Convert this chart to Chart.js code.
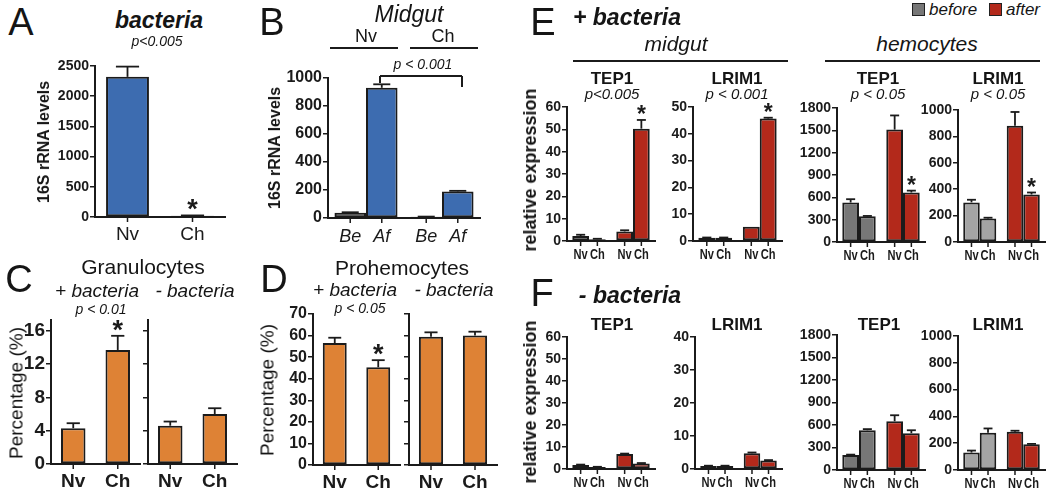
<!DOCTYPE html>
<html>
<head>
<meta charset="utf-8">
<script src="https://cdn.jsdelivr.net/npm/chart.js@4.4.0/dist/chart.umd.min.js"></script>
<style>
  body { margin: 0; background: #fff; }
  #fig { position: relative; width: 1050px; height: 493px; overflow: hidden;
         font-family: "Liberation Sans", Arial, sans-serif; color: #151515; }
  #fig canvas { position: absolute; }
  .t { position: absolute; white-space: nowrap; line-height: 1; }
  .ln { position: absolute; background: #1b1b1b; }
  .key { position: absolute; width: 11px; height: 11px; border: 1.5px solid #222; }
</style>
</head>
<body>
<div id="fig"></div>
<script>
const FONT = '"Liberation Sans", Arial, sans-serif';
const INK = "#1b1b1b";
const BLUE = "#3d6cb0", ORANGE = "#de8235", RED = "#b3291b";
const GRAY_DK = "#777777", GRAY_LT = "#a4a4a4";

// ---- A: whole mosquito 16S rRNA
const aLabels = ["Nv", "Ch"];
const aValues = [2320, 20];
const aErrors = [170, 6];

// ---- B: midgut 16S rRNA, before (Be) / after (Af)
const bGroups = ["Nv", "Ch"];
const bBe = [38, 9];
const bAf = [930, 190];
const bBeErr = [3, 1];
const bAfErr = [25, 4];

// ---- C: granulocytes (%)
const cLabels = ["Nv", "Ch"];
const cPlus = [4.3, 13.7];
const cPlusErr = [0.6, 1.7];
const cMinus = [4.6, 6.0];
const cMinusErr = [0.5, 0.7];

// ---- D: prohemocytes (%)
const dPlus = [56.5, 45.3];
const dPlusErr = [2.5, 3.3];
const dMinus = [59.5, 60.0];
const dMinusErr = [2.0, 1.8];

// ---- E/F: relative expression, order = before Nv, before Ch, after Nv, after Ch
const efGroups = ["before", "after"];
const efBars = ["Nv", "Ch"];
const eTep1Gut = [2.2, 0.8, 4.3, 50.3];
const eTep1GutErr = [0.6, 0.2, 0.5, 3.9];
const eLrim1Gut = [1.2, 1.2, 5.3, 45.7];
const eLrim1GutErr = [0.1, 0.1, 0, 0.3];
const eTep1Hem = [530, 345, 1510, 665];
const eTep1HemErr = [45, 5, 190, 25];
const eLrim1Hem = [300, 178, 880, 360];
const eLrim1HemErr = [20, 6, 105, 15];
const fTep1Gut = [1.8, 0.9, 6.8, 2.5];
const fTep1GutErr = [0.2, 0.1, 0.2, 0.2];
const fLrim1Gut = [0.9, 0.9, 4.8, 2.6];
const fLrim1GutErr = [0.1, 0.1, 0.2, 0.1];
const fTep1Hem = [200, 530, 650, 490];
const fTep1HemErr = [5, 15, 80, 40];
const fLrim1Hem = [130, 278, 285, 192];
const fLrim1HemErr = [15, 32, 8, 3];

const fig = document.getElementById("fig");

// error bars, stars, tick marks and labels under each bar
const barMarks = {
  id: "barMarks",
  afterDatasetsDraw(chart, args, opts) {
    const { ctx, chartArea, scales: { y } } = chart;
    const seg = (x0, y0, x1, y1) => { ctx.beginPath(); ctx.moveTo(x0, y0); ctx.lineTo(x1, y1); ctx.stroke(); };
    ctx.save();
    ctx.strokeStyle = INK;
    ctx.fillStyle = INK;
    ctx.textAlign = "center";
    ctx.textBaseline = "alphabetic";
    chart.data.datasets.forEach((ds, di) => {
      chart.getDatasetMeta(di).data.forEach((bar, i) => {
        const x = bar.x;
        ctx.lineWidth = 1.5;
        seg(x, chartArea.bottom + 1, x, chartArea.bottom + 5);
        let top = y.getPixelForValue(ds.data[i]);
        const e = ds.err ? ds.err[i] : 0;
        if (e > 0) {
          const ye = y.getPixelForValue(ds.data[i] + e);
          const cap = bar.width * 0.27;
          ctx.lineWidth = 1.8;
          seg(x, top, x, ye);
          seg(x - cap, ye, x + cap, ye);
          top = ye;
        }
        if (ds.star && ds.star[i]) {
          ctx.font = `bold ${opts.starSize}px ${FONT}`;
          ctx.fillText("*", x, top + opts.starDrop);
        }
        // labels under the bars, squeezed a bit where the bars are narrow
        ctx.save();
        ctx.translate(x, chartArea.bottom + opts.labelGap);
        ctx.scale(opts.labelScaleX || 1, 1);
        ctx.font = opts.labelFont;
        ctx.fillText(ds.under[i], 0, 0);
        ctx.restore();
      });
    });
    ctx.restore();
  }
};

function barPanel(o) {
  const padL = 60, padT = 28, padB = 32, padR = 6;
  const [x0, x1, yTop, yBot] = o.box;
  const cv = document.createElement("canvas");
  cv.width = x1 - x0 + padL + padR;
  cv.height = yBot - yTop + padT + padB;
  cv.style.left = (x0 - padL) + "px";
  cv.style.top = (yTop - padT) + "px";
  fig.appendChild(cv);
  return new Chart(cv, {
    type: "bar",
    data: {
      labels: o.labels,
      datasets: o.datasets.map(d => ({
        data: d.data,
        err: d.err,
        under: d.under,
        star: d.star || [],
        backgroundColor: d.color,
        borderColor: INK,
        borderWidth: 2,
        borderSkipped: false,
        barPercentage: o.barPct,
        categoryPercentage: o.catPct,
      })),
    },
    options: {
      responsive: false,
      animation: false,
      devicePixelRatio: 1,
      layout: { padding: { top: padT, right: padR, left: 0, bottom: 0 } },
      plugins: {
        legend: { display: false },
        tooltip: { enabled: false },
        barMarks: {
          labelFont: o.labelFont, labelGap: o.labelGap, labelScaleX: o.labelScaleX,
          starSize: o.starSize || 27, starDrop: o.starDrop ?? 3,
        },
      },
      scales: {
        x: {
          grid: { display: true, drawOnChartArea: false, drawTicks: false },
          ticks: { display: false },
          border: { color: INK, width: 2 },
          afterFit: s => { s.height = padB; },
        },
        y: {
          min: 0,
          max: o.max,
          ticks: {
            stepSize: o.step,
            includeBounds: false,
            autoSkip: false,
            display: o.tickLabels !== false,
            color: INK,
            padding: 1,
            font: { family: FONT, size: o.tickSize, weight: "bold" },
            callback: v => String(v),
          },
          grid: { drawOnChartArea: false, tickLength: 5, color: INK, lineWidth: 1.5 },
          border: { color: INK, width: 2 },
          afterFit: s => { s.width = padL; },
        },
      },
    },
    plugins: [barMarks],
  });
}

function efPanel(box, vals, errs, max, step, gray, star) {
  return barPanel({
    box, max, step, tickSize: 14,
    labels: efGroups,
    catPct: 0.76, barPct: 1,
    labelFont: `bold 15px ${FONT}`, labelGap: 18, labelScaleX: 0.74,
    starSize: 23, starDrop: 2,
    datasets: [
      { data: [vals[0], vals[2]], err: [errs[0], errs[2]], color: [gray, RED], under: [efBars[0], efBars[0]] },
      { data: [vals[1], vals[3]], err: [errs[1], errs[3]], color: [gray, RED], under: [efBars[1], efBars[1]], star: [false, star] },
    ],
  });
}

// ---------- text helpers
function text(str, x, base, size, opt = {}) {
  const d = document.createElement("div");
  d.className = "t";
  d.textContent = str;
  d.style.fontSize = size + "px";
  d.style.fontWeight = opt.bold ? "bold" : "normal";
  d.style.fontStyle = opt.italic ? "italic" : "normal";
  d.style.left = x + "px";
  d.style.top = (base - 0.8465 * size) + "px";
  d.style.transform = opt.left ? "none" : "translateX(-50%)";
  fig.appendChild(d);
}
function vtext(str, cx, cy, size, opt = {}) {
  const d = document.createElement("div");
  d.className = "t";
  d.textContent = str;
  d.style.fontSize = size + "px";
  d.style.fontWeight = opt.bold ? "bold" : "normal";
  d.style.left = cx + "px";
  d.style.top = cy + "px";
  d.style.transform = "translate(-50%,-50%) rotate(-90deg)";
  fig.appendChild(d);
}
function hline(x0, x1, y, w = 1.5) {
  const d = document.createElement("div");
  d.className = "ln";
  Object.assign(d.style, { left: x0 + "px", top: (y - w / 2) + "px", width: (x1 - x0) + "px", height: w + "px" });
  fig.appendChild(d);
}
function vline(x, y0, y1, w = 1.5) {
  const d = document.createElement("div");
  d.className = "ln";
  Object.assign(d.style, { left: (x - w / 2) + "px", top: y0 + "px", width: w + "px", height: (y1 - y0) + "px" });
  fig.appendChild(d);
}

// ---------- A
barPanel({
  box: [95, 225, 66, 217], max: 2500, step: 500, tickSize: 14,
  labels: aLabels, catPct: 1, barPct: 0.66,
  labelFont: `19px ${FONT}`, labelGap: 23,
  datasets: [{ data: aValues, err: aErrors, color: BLUE, under: aLabels, star: [false, true] }],
});
text("A", 21, 35, 38);
text("bacteria", 159, 28, 23, { bold: true, italic: true });
text("p<0.005", 157, 46, 14, { italic: true });
vtext("16S rRNA levels", 44, 142, 16, { bold: true });

// ---------- B
barPanel({
  box: [328, 480, 78, 218], max: 1000, step: 200, tickSize: 16,
  labels: bGroups, catPct: 0.83, barPct: 1,
  labelFont: `italic 18px ${FONT}`, labelGap: 24,
  datasets: [
    { data: bBe, err: bBeErr, color: "#6f6f6f", under: ["Be", "Be"] },
    { data: bAf, err: bAfErr, color: BLUE, under: ["Af", "Af"] },
  ],
});
text("B", 272, 35, 38);
text("Midgut", 409, 22, 23, { italic: true });
text("Nv", 366, 42, 18);
text("Ch", 443, 42, 18);
hline(330, 398, 48);
hline(410, 478, 48);
text("p < 0.001", 423, 69, 14, { italic: true });
hline(380, 462, 76);
vline(380, 76, 83);
vline(462, 76, 87);
vtext("16S rRNA levels", 275, 148, 16, { bold: true });

// ---------- C
barPanel({
  box: [51, 140, 320, 464], max: 17.3, step: 4, tickSize: 19,
  labels: cLabels, catPct: 1, barPct: 0.55,
  labelFont: `bold 19px ${FONT}`, labelGap: 23,
  datasets: [{ data: cPlus, err: cPlusErr, color: ORANGE, under: cLabels, star: [false, true] }],
});
barPanel({
  box: [148, 237, 320, 464], max: 17.3, step: 4, tickSize: 19, tickLabels: false,
  labels: cLabels, catPct: 1, barPct: 0.55,
  labelFont: `bold 19px ${FONT}`, labelGap: 23,
  datasets: [{ data: cMinus, err: cMinusErr, color: ORANGE, under: cLabels }],
});
text("C", 19, 292, 38);
text("Granulocytes", 143, 274, 21);
text("+ bacteria", 97, 297, 19, { italic: true });
text("- bacteria", 195, 297, 19, { italic: true });
text("p < 0.01", 101, 314, 14, { italic: true });
vtext("Percentage (%)", 16, 393, 19);

// ---------- D
barPanel({
  box: [313, 400, 314, 465], max: 70, step: 10, tickSize: 16,
  labels: cLabels, catPct: 1, barPct: 0.55,
  labelFont: `bold 19px ${FONT}`, labelGap: 23,
  datasets: [{ data: dPlus, err: dPlusErr, color: ORANGE, under: cLabels, star: [false, true] }],
});
barPanel({
  box: [409, 497, 314, 465], max: 70, step: 10, tickSize: 16, tickLabels: false,
  labels: cLabels, catPct: 1, barPct: 0.55,
  labelFont: `bold 19px ${FONT}`, labelGap: 23,
  datasets: [{ data: dMinus, err: dMinusErr, color: ORANGE, under: cLabels }],
});
text("D", 274, 292, 38);
text("Prohemocytes", 402, 275, 21);
text("+ bacteria", 355, 296, 19, { italic: true });
text("- bacteria", 454, 296, 19, { italic: true });
text("p < 0.05", 360, 313, 14, { italic: true });
vtext("Percentage (%)", 267, 390, 19);

// ---------- E
efPanel([567, 655, 107, 241], eTep1Gut, eTep1GutErr, 60, 10, GRAY_LT, true);
efPanel([693, 782, 107, 241], eLrim1Gut, eLrim1GutErr, 50, 10, GRAY_LT, true);
efPanel([837, 925, 108, 242], eTep1Hem, eTep1HemErr, 1800, 300, GRAY_DK, true);
efPanel([958, 1045, 110, 242], eLrim1Hem, eLrim1HemErr, 1000, 200, GRAY_LT, true);
text("E", 543, 35, 38);
text("+ bacteria", 627, 25, 23, { bold: true, italic: true });
text("midgut", 676, 51, 21, { italic: true });
text("hemocytes", 927, 51, 21, { italic: true });
hline(573, 788, 61);
hline(825, 1040, 61);
text("TEP1", 612, 84, 17, { bold: true });
text("LRIM1", 737, 84, 17, { bold: true });
text("TEP1", 878, 84, 17, { bold: true });
text("LRIM1", 998, 84, 17, { bold: true });
text("p<0.005", 612, 99, 15, { italic: true });
text("p < 0.001", 737, 99, 15, { italic: true });
text("p < 0.05", 878, 99, 15, { italic: true });
text("p < 0.05", 998, 99, 15, { italic: true });
vtext("relative expression", 530, 170, 18, { bold: true });

// legend
[[912, GRAY_DK, "before"], [989, RED, "after"]].forEach(([x, c, s]) => {
  const k = document.createElement("div");
  k.className = "key";
  Object.assign(k.style, { left: x + "px", top: "3px", background: c });
  fig.appendChild(k);
  text(s, x + 17, 15, 17, { italic: true, left: true });
});

// ---------- F
efPanel([567, 655, 337, 469], fTep1Gut, fTep1GutErr, 60, 10, GRAY_LT, false);
efPanel([695, 782, 337, 469], fLrim1Gut, fLrim1GutErr, 40, 10, GRAY_LT, false);
efPanel([837, 925, 335, 470], fTep1Hem, fTep1HemErr, 1800, 300, GRAY_DK, false);
efPanel([958, 1045, 336, 470], fLrim1Hem, fLrim1HemErr, 1000, 200, GRAY_LT, false);
text("F", 542, 306, 38);
text("- bacteria", 630, 303, 23, { bold: true, italic: true });
text("TEP1", 612, 330, 17, { bold: true });
text("LRIM1", 737, 330, 17, { bold: true });
text("TEP1", 879, 330, 17, { bold: true });
text("LRIM1", 998, 330, 17, { bold: true });
vtext("relative expression", 530, 402, 18, { bold: true });
</script>
</body>
</html>
